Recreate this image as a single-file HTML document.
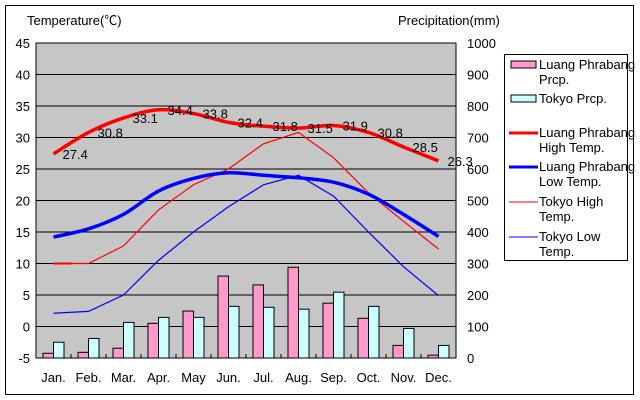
<!DOCTYPE html><html><head><style>body{margin:0;background:#fff}svg{display:block}text{font-family:"Liberation Sans","Noto Sans CJK JP",sans-serif;font-size:13px}</style></head><body>
<svg id="s" width="640" height="400" xmlns="http://www.w3.org/2000/svg">
<rect x="5.5" y="5.5" width="628" height="389" fill="#fff" stroke="#000"/>
<rect x="36" y="43" width="420" height="315" fill="#c6c6c6" stroke="#000"/>
<text x="27" y="25">Temperature(℃)</text>
<text x="398" y="25">Precipitation(mm)</text>
<g id="g"></g>
<rect x="504.5" y="54.5" width="123" height="206" fill="#fff" stroke="#000"/>
<rect x="511" y="61" width="25" height="7" fill="#f9c" stroke="#000"/>
<text x="539" y="69" font-size="12">Luang Phrabang</text><text x="539" y="84" font-size="12">Prcp.</text>
<rect x="511" y="95" width="25" height="7" fill="#cff" stroke="#000"/>
<text x="539" y="103" font-size="12">Tokyo Prcp.</text>
<line x1="509" y1="133" x2="538" y2="133" stroke="#f00" stroke-width="3"/>
<text x="539" y="137" font-size="12">Luang Phrabang</text><text x="539" y="152" font-size="12">High Temp.</text>
<line x1="509" y1="167" x2="538" y2="167" stroke="#00f" stroke-width="3"/>
<text x="539" y="171" font-size="12">Luang Phrabang</text><text x="539" y="186" font-size="12">Low Temp.</text>
<line x1="509" y1="202" x2="538" y2="202" stroke="#f00"/>
<text x="539" y="206" font-size="12">Tokyo High</text><text x="539" y="221" font-size="12">Temp.</text>
<line x1="509" y1="237" x2="538" y2="237" stroke="#00f"/>
<text x="539" y="241" font-size="12">Tokyo Low</text><text x="539" y="256" font-size="12">Temp.</text>
</svg>
<script>
const g=document.getElementById('g');let h='';
const Y=v=>358-(v+5)*6.3, X=i=>53.5+35*i;
for(let k=0;k<=10;k++){const y=358-k*31.5;
 if(k>0&&k<10)h+=`<line x1="36" x2="456" y1="${y}" y2="${y}" stroke="#000"/>`;
 h+=`<text x="30" y="${y+5}" text-anchor="end">${45-5*(10-k)}</text>`;
 h+=`<text x="467" y="${y+5}">${k*100}</text>`;}
const m=['Jan.','Feb.','Mar.','Apr.','May','Jun.','Jul.','Aug.','Sep.','Oct.','Nov.','Dec.'];
const pk=[15,18,31,110,149,260,232,288,174,126,40,9],cy=[50,62,113,129,129,164,161,155,209,164,94,40];
for(let i=0;i<12;i++){const c=X(i);
 h+=`<line x1="${36+35*i}" x2="${36+35*i}" y1="358" y2="354" stroke="#000"/>`;
 h+=`<rect x="${c-10.5}" y="${358-pk[i]*.315}" width="10.5" height="${pk[i]*.315}" fill="#f9c" stroke="#000"/>`;
 h+=`<rect x="${c}" y="${358-cy[i]*.315}" width="10.5" height="${cy[i]*.315}" fill="#cff" stroke="#000"/>`;
 h+=`<text x="${c}" y="382" text-anchor="middle">${m[i]}</text>`;}
function smooth(v){const p=v.map((a,i)=>[X(i),Y(a)]);let d=`M${p[0]}`;
 for(let i=0;i<p.length-1;i++){const a=p[i-1]||p[i],b=p[i],c=p[i+1],e=p[i+2]||c;
 d+=`C${b[0]+(c[0]-a[0])/6},${b[1]+(c[1]-a[1])/6} ${c[0]-(e[0]-b[0])/6},${c[1]-(e[1]-b[1])/6} ${c[0]},${c[1]}`;}return d;}
const line=v=>'M'+v.map((a,i)=>X(i)+','+Y(a)).join('L');
const th=[10,10,12.8,18.5,22.5,25,29,30.8,26.8,21.2,16.7,12.3],tl=[2.1,2.4,5,10.5,15,19,22.5,24,20.7,15,9.5,4.9];
h+=`<path d="${line(th)}" fill="none" stroke="#f00" stroke-width="1.2"/>`;
h+=`<line x1="${X(0)}" x2="${X(0)+18}" y1="${Y(10)}" y2="${Y(10)}" stroke="#f00" stroke-width="2"/>`;
h+=`<path d="${line(tl)}" fill="none" stroke="#00f" stroke-width="1.2"/>`;
const lh=[27.4,30.8,33.1,34.4,33.8,32.4,31.8,31.5,31.9,30.8,28.5,26.3],ll=[14.2,15.5,17.8,21.5,23.5,24.4,24,23.6,22.9,21,17.8,14.3];
h+=`<path d="${smooth(lh)}" fill="none" stroke="#f00" stroke-width="3.5"/>`;
h+=`<path d="${smooth(ll)}" fill="none" stroke="#00f" stroke-width="3.5"/>`;
lh.forEach((v,i)=>h+=`<text x="${X(i)+9}" y="${Y(v)+5}">${v}</text>`);
g.innerHTML=h;
</script></body></html>
